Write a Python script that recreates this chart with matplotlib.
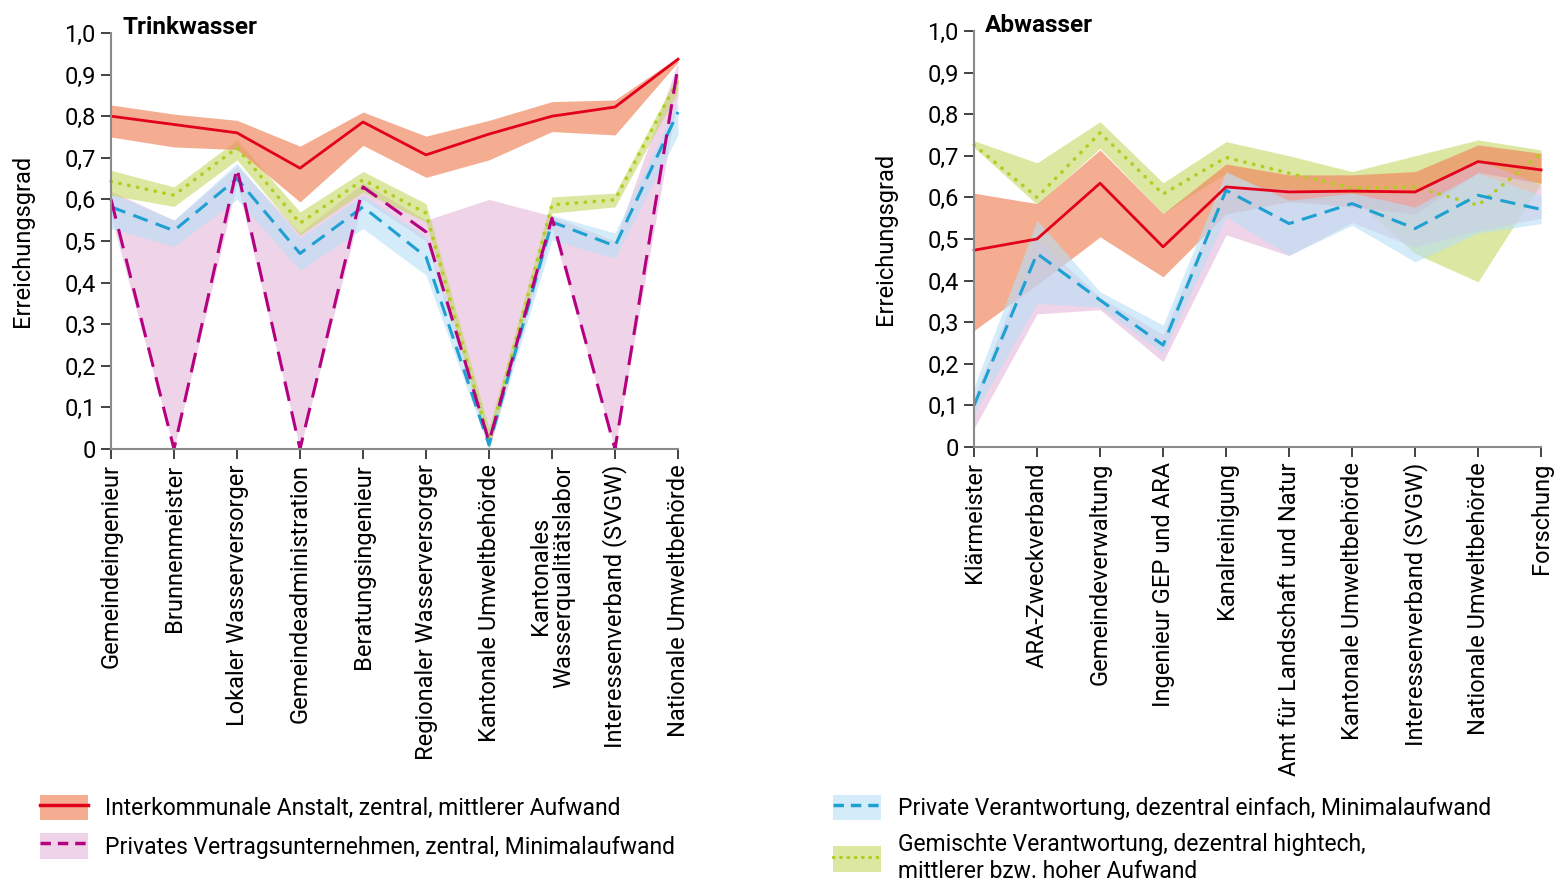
import matplotlib
matplotlib.use("Agg")
import matplotlib.pyplot as plt
from matplotlib.patches import Patch
from matplotlib.lines import Line2D

plt.rcParams['font.family'] = ['Roboto', 'DejaVu Sans']
plt.rcParams['font.size'] = 17

# Trinkwasser
tw_cats = ["Gemeindeingenieur", "Brunnenmeister", "Lokaler Wasserversorger",
           "Gemeindeadministration", "Beratungsingenieur", "Regionaler Wasserversorger",
           "Kantonale Umweltbehörde", "Kantonales\nWasserqualitätslabor",
           "Interessenverband (SVGW)", "Nationale Umweltbehörde"]
tw_red = [0.80, 0.78, 0.76, 0.675, 0.786, 0.707, 0.757, 0.80, 0.822, 0.937]
tw_red_lo = [0.75, 0.726, 0.72, 0.594, 0.73, 0.653, 0.695, 0.763, 0.755, 0.93]
tw_red_hi = [0.827, 0.805, 0.79, 0.728, 0.81, 0.752, 0.79, 0.835, 0.839, 0.942]
tw_pink = [0.60, 0.0, 0.675, 0.0, 0.63, 0.522, 0.018, 0.555, 0.0, 0.92]
tw_pink_lo = [0.56, 0.0, 0.64, 0.0, 0.60, 0.50, 0.0, 0.53, 0.0, 0.85]
tw_pink_hi = [0.62, 0.55, 0.68, 0.52, 0.64, 0.55, 0.60, 0.56, 0.50, 0.93]
tw_blue = [0.582, 0.525, 0.65, 0.47, 0.582, 0.462, 0.01, 0.546, 0.488, 0.81]
tw_blue_lo = [0.53, 0.487, 0.60, 0.43, 0.53, 0.418, 0.0, 0.502, 0.459, 0.755]
tw_blue_hi = [0.615, 0.55, 0.687, 0.507, 0.61, 0.51, 0.05, 0.562, 0.519, 0.835]
tw_green = [0.643, 0.61, 0.724, 0.543, 0.647, 0.567, 0.02, 0.587, 0.599, 0.887]
tw_green_lo = [0.61, 0.583, 0.695, 0.514, 0.618, 0.546, 0.0, 0.567, 0.582, 0.86]
tw_green_hi = [0.67, 0.63, 0.743, 0.57, 0.667, 0.59, 0.05, 0.606, 0.615, 0.90]

# Abwasser
aw_cats = ["Klärmeister", "ARA-Zweckverband", "Gemeindeverwaltung", "Ingenieur GEP und ARA",
           "Kanalreinigung", "Amt für Landschaft und Natur", "Kantonale Umweltbehörde",
           "Interessenverband (SVGW)", "Nationale Umweltbehörde", "Forschung"]
aw_red = [0.473, 0.50, 0.634, 0.481, 0.625, 0.613, 0.615, 0.613, 0.686, 0.666]
aw_red_lo = [0.28, 0.39, 0.505, 0.409, 0.56, 0.59, 0.577, 0.56, 0.66, 0.634]
aw_red_hi = [0.61, 0.585, 0.714, 0.561, 0.68, 0.654, 0.654, 0.662, 0.726, 0.706]
aw_pink_lo = [0.045, 0.32, 0.33, 0.205, 0.51, 0.46, 0.54, 0.48, 0.52, 0.55]
aw_pink_hi = [0.12, 0.50, 0.36, 0.27, 0.63, 0.62, 0.61, 0.61, 0.69, 0.63]
aw_blue = [0.10, 0.465, 0.353, 0.245, 0.617, 0.537, 0.585, 0.525, 0.605, 0.571]
aw_blue_lo = [0.08, 0.345, 0.337, 0.225, 0.553, 0.461, 0.533, 0.445, 0.514, 0.537]
aw_blue_hi = [0.144, 0.545, 0.373, 0.293, 0.662, 0.593, 0.61, 0.577, 0.658, 0.605]
aw_green = [0.726, 0.60, 0.755, 0.608, 0.696, 0.658, 0.622, 0.625, 0.581, 0.706]
aw_green_lo = [0.72, 0.583, 0.718, 0.561, 0.658, 0.59, 0.60, 0.465, 0.397, 0.634]
aw_green_hi = [0.736, 0.683, 0.782, 0.635, 0.734, 0.70, 0.662, 0.70, 0.738, 0.714]

ytick_vals = [0, 0.1, 0.2, 0.3, 0.4, 0.5, 0.6, 0.7, 0.8, 0.9, 1.0]
ytick_labels = ["0", "0,1", "0,2", "0,3", "0,4", "0,5", "0,6", "0,7", "0,8", "0,9", "1,0"]

c_red_fill, c_red = '#f08a63', '#e2001a'
c_pink_fill, c_pink = '#e0b0d8', '#b5007f'
c_blue_fill, c_blue = '#b8e0f5', '#1ea0d2'
c_green_fill, c_green = '#c5d865', '#b4cc22'

fig = plt.figure(figsize=(15.59, 8.89), dpi=100)
ax1 = fig.add_axes([0.0712, 0.4949, 0.3637, 0.468])
ax2 = fig.add_axes([0.6248, 0.4972, 0.3637, 0.468])


def style_axis(ax, cats, title):
    x = range(len(cats))
    ax.set_xlim(0, len(cats) - 1)
    ax.set_ylim(0, 1.0)
    ax.set_yticks(ytick_vals)
    ax.set_yticklabels(ytick_labels, fontsize=17)
    ax.set_xticks(list(x))
    ax.set_xticklabels(cats, rotation=90, fontsize=17, va='top', ha='center',
                       linespacing=1.0)
    for s in ['top', 'right']:
        ax.spines[s].set_visible(False)
    for s in ['left', 'bottom']:
        ax.spines[s].set_color('#8a8a8a')
        ax.spines[s].set_linewidth(1.5)
    ax.tick_params(axis='both', length=7, width=1.2, color='#222222', pad=4)
    ax.set_ylabel("Erreichungsgrad", fontsize=17, labelpad=22)
    ax.text(0.02, 1.013, title, transform=ax.transAxes, fontsize=17.5,
            fontweight='bold', va='center', ha='left')


x = range(10)

# left chart
ax1.fill_between(x, tw_pink_lo, tw_pink_hi, color=c_pink_fill, alpha=0.55, lw=0)
ax1.fill_between(x, tw_blue_lo, tw_blue_hi, color=c_blue_fill, alpha=0.6, lw=0)
ax1.fill_between(x, tw_green_lo, tw_green_hi, color=c_green_fill, alpha=0.6, lw=0)
ax1.fill_between(x, tw_red_lo, tw_red_hi, color=c_red_fill, alpha=0.7, lw=0)
ax1.plot(x, tw_green, color=c_green, lw=2.6, dashes=(0.1, 2.4),
         dash_capstyle='round', clip_on=False)
ax1.plot(x, tw_blue, color=c_blue, lw=2.2, dashes=(5, 2.8), clip_on=False)
ax1.plot(x, tw_pink, color=c_pink, lw=2.2, dashes=(6.5, 3.5), clip_on=False)
ax1.plot(x, tw_red, color=c_red, lw=2.0, clip_on=False)
style_axis(ax1, tw_cats, "Trinkwasser")

# right chart
ax2.fill_between(x, aw_green_lo, aw_green_hi, color=c_green_fill, alpha=0.6, lw=0)
ax2.fill_between(x, aw_red_lo, aw_red_hi, color=c_red_fill, alpha=0.7, lw=0)
ax2.fill_between(x, aw_pink_lo, aw_pink_hi, color=c_pink_fill, alpha=0.55, lw=0)
ax2.fill_between(x, aw_blue_lo, aw_blue_hi, color=c_blue_fill, alpha=0.6, lw=0)
ax2.plot(x, aw_green, color=c_green, lw=2.6, dashes=(0.1, 2.4),
         dash_capstyle='round', clip_on=False)
ax2.plot(x, aw_blue, color=c_blue, lw=2.2, dashes=(5, 2.8), clip_on=False)
ax2.plot(x, aw_red, color=c_red, lw=2.0, clip_on=False)
style_axis(ax2, aw_cats, "Abwasser")

# legends
h_red = (Patch(facecolor=c_red_fill, alpha=0.7, lw=0), Line2D([], [], color=c_red, lw=2.5))
h_pink = (Patch(facecolor=c_pink_fill, alpha=0.55, lw=0),
          Line2D([], [], color=c_pink, lw=2.5, dashes=(3, 2)))
h_blue = (Patch(facecolor=c_blue_fill, alpha=0.6, lw=0),
          Line2D([], [], color=c_blue, lw=2.5, dashes=(3, 2)))
h_green = (Patch(facecolor=c_green_fill, alpha=0.6, lw=0),
           Line2D([], [], color=c_green, lw=2.5, dashes=(0.1, 2), dash_capstyle='round'))

leg_kw = dict(frameon=False, fontsize=16.5, handlelength=2.1, handleheight=1.35,
              handletextpad=0.75, labelspacing=0.55, borderaxespad=0, borderpad=0)
fig.legend([h_red, h_pink],
           ["Interkommunale Anstalt, zentral, mittlerer Aufwand",
            "Privates Vertragsunternehmen, zentral, Minimalaufwand"],
           loc='upper left', bbox_to_anchor=(0.0257, 0.106), **leg_kw)
fig.legend([h_blue, h_green],
           ["Private Verantwortung, dezentral einfach, Minimalaufwand",
            "Gemischte Verantwortung, dezentral hightech,\nmittlerer bzw. hoher Aufwand"],
           loc='upper left', bbox_to_anchor=(0.5343, 0.106), **leg_kw)

fig.savefig("out.png", dpi=100)
